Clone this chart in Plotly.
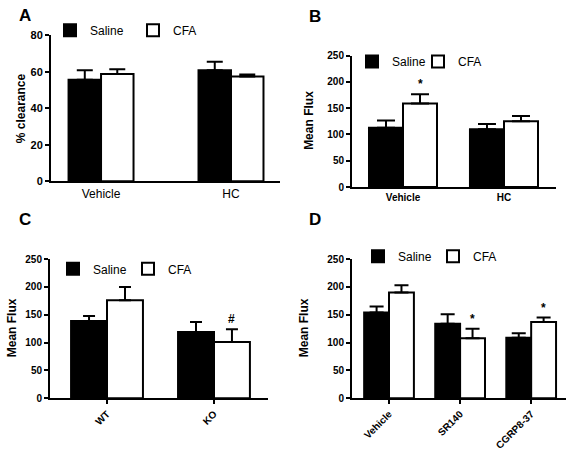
import plotly.graph_objects as go

W, H = 568, 453

# ---------------- data ----------------
series_names = ["Saline", "CFA"]

a_cats = ["Vehicle", "HC"]
a_saline = [55.6, 60.8]
a_saline_sem = [5.2, 4.6]
a_cfa = [58.7, 57.4]
a_cfa_sem = [2.6, 1.1]
a_sig = ["", ""]

b_cats = ["Vehicle", "HC"]
b_saline = [113, 110]
b_saline_sem = [13.5, 10]
b_cfa = [159, 125]
b_cfa_sem = [17.5, 10]
b_sig = ["*", ""]

c_cats = ["WT", "KO"]
c_saline = [139, 119]
c_saline_sem = [9, 18]
c_cfa = [176, 101]
c_cfa_sem = [24, 23]
c_sig = ["", "#"]

d_cats = ["Vehicle", "SR140", "CGRP8-37"]
d_saline = [154, 134, 109]
d_saline_sem = [11, 17, 8]
d_cfa = [190, 108, 137]
d_cfa_sem = [13, 17, 8]
d_sig = ["", "*", "*"]

FONT = "Liberation Sans, Arial, sans-serif"

def px_x(p):
    return p / W

def px_y(p):
    return 1 - p / H

panels = [
    dict(key="", cats=a_cats, sal=a_saline, sals=a_saline_sem, cfa=a_cfa, cfas=a_cfa_sem, sig=a_sig,
         xd=[px_x(51), px_x(280)], yd=[px_y(180), px_y(30)], yr=[0, 80], dtick=20,
         xr=[-0.385, 1.377], bw=0.25, cap=8, ytf=11, xtf=dict(size=12), xangle=0, xticks="", xstand=0,
         legend="legend", leg=(50, 25), entw=38, ytitle="% clearance", ytpos=(21, 105),
         letter="A", lpos=(17, 10)),
    dict(key="2", cats=b_cats, sal=b_saline, sals=b_saline_sem, cfa=b_cfa, cfas=b_cfa_sem, sig=b_sig,
         xd=[px_x(352), px_x(556)], yd=[px_y(186), px_y(51)], yr=[0, 250], dtick=50,
         xr=[-0.505, 1.515], bw=0.337, cap=9, ytf=10, xtf=dict(size=10, weight="bold"), xangle=0, xticks="", xstand=0,
         legend="legend2", leg=(352, 57), entw=21, ytitle="Mean Flux", ytpos=(309, 118),
         letter="B", lpos=(307, 11)),
    dict(key="3", cats=c_cats, sal=c_saline, sals=c_saline_sem, cfa=c_cfa, cfas=c_cfa_sem, sig=c_sig,
         xd=[px_x(50), px_x(268)], yd=[px_y(403), px_y(260)], yr=[0, 250], dtick=50,
         xr=[-0.533, 1.505], bw=0.336, cap=6, ytf=10, xtf=dict(size=10, weight="bold"), xangle=-45, xticks="outside", xstand=0,
         legend="legend3", leg=(53, 270), entw=30, ytitle="Mean Flux", ytpos=(12, 331),
         letter="C", lpos=(17, 219)),
    dict(key="4", cats=d_cats, sal=d_saline, sals=d_saline_sem, cfa=d_cfa, cfas=d_cfa_sem, sig=d_sig,
         xd=[px_x(352), px_x(566)], yd=[px_y(403), px_y(260)], yr=[0, 250], dtick=50,
         xr=[-0.521, 2.49], bw=0.35, cap=7, ytf=10, xtf=dict(size=10, weight="bold"), xangle=-45, xticks="outside", xstand=0,
         legend="legend4", leg=(358, 257), entw=30, ytitle="Mean Flux", ytpos=(304, 331),
         letter="D", lpos=(307, 219)),
]

fig = go.Figure()
annotations = []
layout_axes = {}

for p in panels:
    k = p["key"]
    xs = list(range(len(p["cats"])))
    xa = "x" + k
    ya = "y" + k
    for name, vals, sems, color, off in [
        (series_names[0], p["sal"], p["sals"], "black", -p["bw"]),
        (series_names[1], p["cfa"], p["cfas"], "white", 0.0),
    ]:
        fig.add_trace(go.Bar(
            x=xs, y=vals, name=name, xaxis=xa, yaxis=ya,
            width=p["bw"], offset=off,
            marker=dict(color=color, line=dict(color="black", width=2)),
            error_y=dict(type="data", symmetric=False, array=sems, arrayminus=[0] * len(sems),
                         color="black", thickness=2, width=p["cap"]),
            legend=p["legend"], showlegend=True,
        ))
    for i, s in enumerate(p["sig"]):
        if s:
            annotations.append(dict(
                x=i + p["bw"] / 2, y=p["cfa"][i] + p["cfas"][i], xref=xa, yref=ya,
                text=s, showarrow=False, yanchor="bottom", yshift=1,
                font=dict(family=FONT, size=12, color="black", weight="bold"),
            ))
    annotations.append(dict(
        x=px_x(p["ytpos"][0]), y=px_y(p["ytpos"][1]), xref="paper", yref="paper",
        text=p["ytitle"], textangle=-90, showarrow=False, xanchor="center", yanchor="middle",
        font=dict(family=FONT, size=12, color="black", weight="bold"),
    ))
    annotations.append(dict(
        x=px_x(p["lpos"][0]), y=px_y(p["lpos"][1]), xref="paper", yref="paper",
        text=p["letter"], showarrow=False, xanchor="left", yanchor="middle",
        font=dict(family=FONT, size=17, color="black", weight="bold"),
    ))

    xname = "xaxis" + k
    yname = "yaxis" + k
    layout_axes[xname] = dict(
        domain=p["xd"], range=p["xr"], anchor=ya,
        tickvals=xs, ticktext=p["cats"], tickangle=p["xangle"],
        ticks=p["xticks"], ticklen=4, tickwidth=2, tickcolor="black",
        ticklabelstandoff=p["xstand"],
        showline=True, linecolor="black", linewidth=2, showgrid=False, zeroline=False,
        tickfont=dict(family=FONT, color="black", **p["xtf"]),
        fixedrange=True,
    )
    layout_axes[yname] = dict(
        domain=p["yd"], range=p["yr"], anchor=xa, dtick=p["dtick"], tick0=0,
        ticks="outside", ticklen=4, tickwidth=2, tickcolor="black",
        showline=True, linecolor="black", linewidth=2, showgrid=False, zeroline=False,
        tickfont=dict(family=FONT, size=p["ytf"], color="black", weight="bold"),
        fixedrange=True,
    )
    layout_axes[p["legend"]] = dict(
        orientation="h", x=px_x(p["leg"][0]), y=px_y(p["leg"][1]),
        xanchor="left", yanchor="middle", bgcolor="rgba(0,0,0,0)",
        font=dict(family=FONT, size=12, color="black"),
        entrywidth=p["entw"], entrywidthmode="pixels", itemwidth=30,
        traceorder="normal", itemclick=False, itemdoubleclick=False,
    )

fig.update_layout(
    width=W, height=H,
    margin=dict(l=0, r=0, t=0, b=0),
    paper_bgcolor="white", plot_bgcolor="white",
    barmode="overlay",
    font=dict(family=FONT, color="black"),
    annotations=annotations,
    **layout_axes,
)

fig.write_html("out.html", config={"displayModeBar": False},
               post_script="document.body.style.margin='0px';document.body.style.overflow='hidden';")
